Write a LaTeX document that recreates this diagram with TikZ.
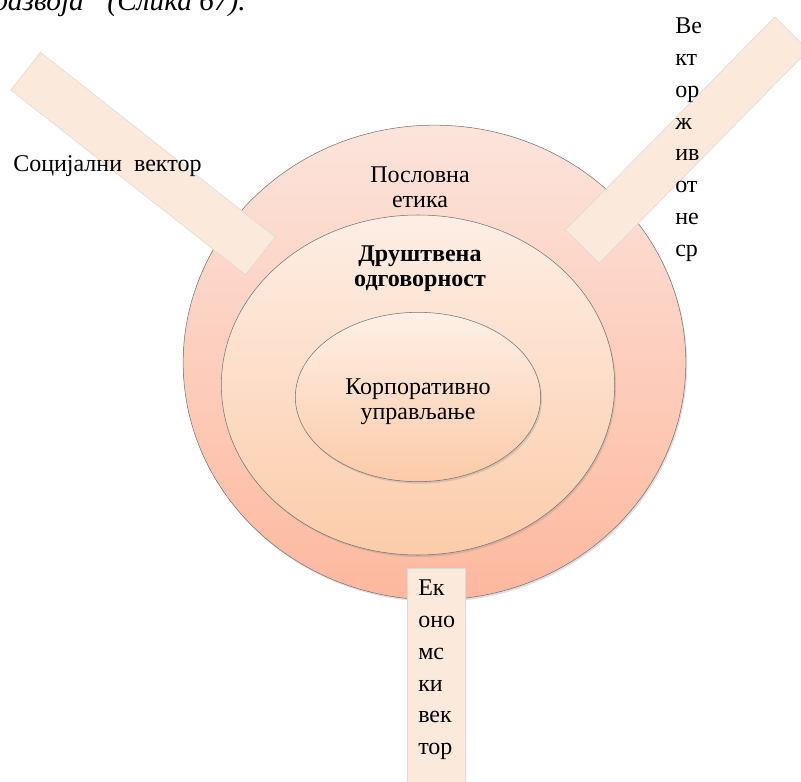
\documentclass[tikz,border=0pt]{standalone}
\usepackage{fontspec}
\setmainfont{Liberation Serif}
\usetikzlibrary{shapes.geometric,shadows}
\definecolor{outertop}{RGB}{252,228,220}
\definecolor{outerbot}{RGB}{253,184,158}
\definecolor{midtop}{RGB}{253,238,229}
\definecolor{midbot}{RGB}{252,204,170}
\definecolor{innertop}{RGB}{253,240,231}
\definecolor{innerbot}{RGB}{252,202,168}
\definecolor{barfill}{RGB}{251,233,219}
\begin{document}
\begin{tikzpicture}[x=0.75pt,y=-0.75pt,
        ring/.style={ellipse, draw=black!55, thin, drop shadow={opacity=0.25, shadow xshift=1pt, shadow yshift=-1.5pt}},
        vecbar/.style={rectangle, draw=black!15, fill=barfill, minimum width=224pt, minimum height=36pt},
        lbl/.style={font=\fontsize{18}{18.75}\selectfont, align=center, inner sep=0pt},
        vlbl/.style={font=\fontsize{18}{23.8}\selectfont, align=left, inner sep=0pt, anchor=north west},
    ]
        \clip (0,0) rectangle (801,782);

        %Rings
        \node[ring, top color=outertop, bottom color=outerbot, minimum width=377pt, minimum height=356pt] (etika) at (434.5,362.5) {};
        \node[ring, top color=midtop, bottom color=midbot, minimum width=295pt, minimum height=255pt] (drustvo) at (418,385) {};
        \node[ring, top color=innertop, bottom color=innerbot, minimum width=184pt, minimum height=127pt] (uprava) at (418,397) {};

        %Vectors
        \node[vecbar, rotate=-38.2] (socbar) at (143,163.5) {};
        \node[vecbar, rotate=45.5, minimum height=35.5pt] (envbar) at (687,140) {};
        \node[vecbar, rotate=90, minimum height=43.5pt] (ecobar) at (436,718) {};

        %Texts
        \node[lbl, font=\fontsize{22}{24}\selectfont\itshape, anchor=base east] (uvod) at (246,10) {развоја“ (Слика 67).};
        \node[lbl] (etika_t) at (420,187) {Пословна\\етика};
        \node[lbl, font=\fontsize{18}{18.75}\selectfont\bfseries] (drustvo_t) at (420,269) {Друштвена\\одговорност};
        \node[lbl] (uprava_t) at (418,402) {Корпоративно\\управљање};
        \node[lbl, anchor=base west] (soc_t) at (13,171) {Социјални\ \ вектор};
        \node[vlbl] (env_t) at (675,18) {Ве\\кт\\ор\\ж\\ив\\от\\не\\ср};
        \node[vlbl] (eco_t) at (418,580) {Ек\\оно\\мс\\ки\\век\\тор};
    \end{tikzpicture}
\end{document}
